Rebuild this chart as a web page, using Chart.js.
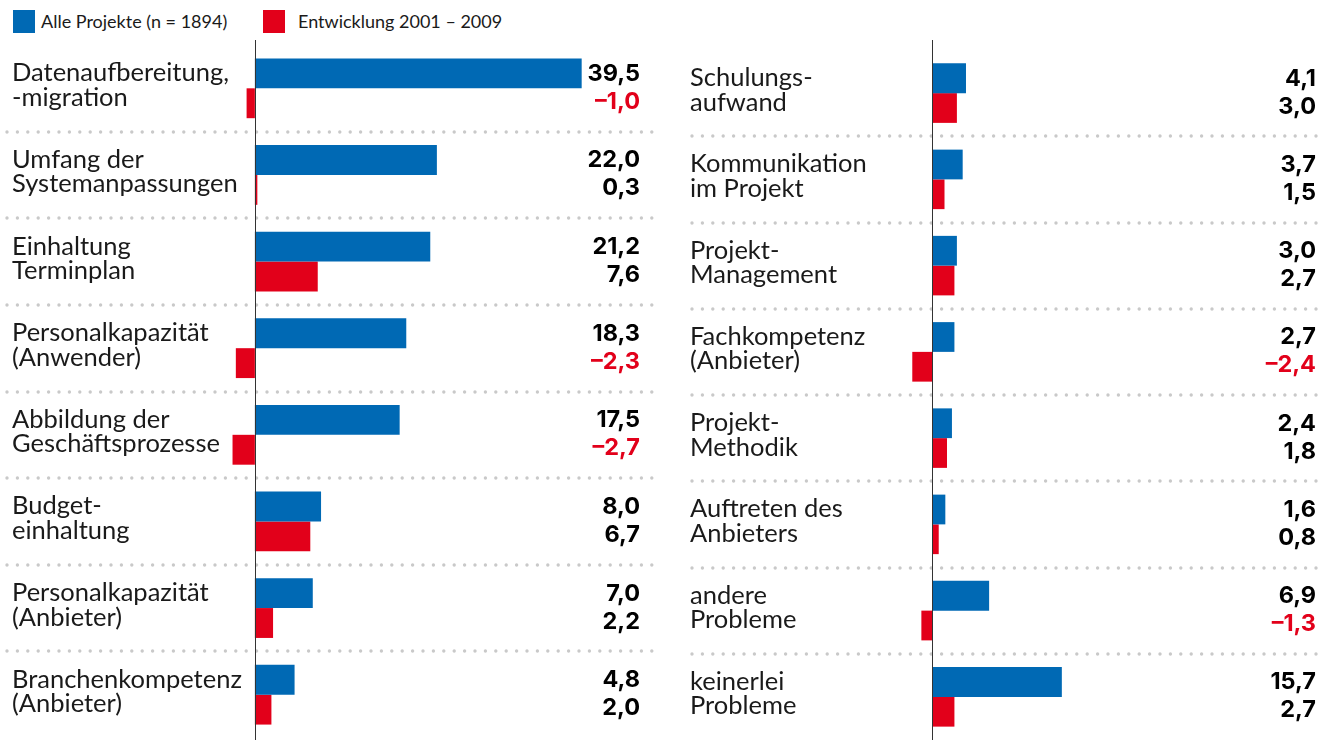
<!DOCTYPE html>
<html>
<head>
<meta charset="utf-8">
<script src="https://cdn.jsdelivr.net/npm/chart.js@4.4.0/dist/chart.umd.min.js"></script>
<style>
  body { margin: 0; background: #fff; width: 1333px; height: 740px; overflow: hidden; position: relative; font-family: Lato, sans-serif; }
  canvas { position: absolute; top: 0; }
  .legend { position: absolute; top: 0; height: 40px; font-size: 18px; font-weight: 400; color: #1a1a1a; }
  .sq { position: absolute; width: 22px; height: 23px; top: 10px; }
  .lt { position: absolute; top: 10px; line-height: 22px; white-space: nowrap; }
</style>
</head>
<body>
<div class="legend">
  <div class="sq" style="left:13px;background:#0069b4"></div>
  <div class="lt" style="left:41px">Alle Projekte (n = 1894)</div>
  <div class="sq" style="left:263px;background:#e2001a"></div>
  <div class="lt" style="left:298px">Entwicklung 2001 – 2009</div>
</div>
<canvas id="left" width="660" height="740" style="left:0"></canvas>
<canvas id="right" width="653" height="740" style="left:680px"></canvas>
<script>
// Data for the left panel
const leftCategories = [
  ['Datenaufbereitung,', '-migration'],
  ['Umfang der', 'Systemanpassungen'],
  ['Einhaltung', 'Terminplan'],
  ['Personalkapazität', '(Anwender)'],
  ['Abbildung der', 'Geschäftsprozesse'],
  ['Budget-', 'einhaltung'],
  ['Personalkapazität', '(Anbieter)'],
  ['Branchenkompetenz', '(Anbieter)']
];
const leftAll = [39.5, 22.0, 21.2, 18.3, 17.5, 8.0, 7.0, 4.8];
const leftChange = [-1.0, 0.3, 7.6, -2.3, -2.7, 6.7, 2.2, 2.0];

// Data for the right panel
const rightCategories = [
  ['Schulungs-', 'aufwand'],
  ['Kommunikation', 'im Projekt'],
  ['Projekt-', 'Management'],
  ['Fachkompetenz', '(Anbieter)'],
  ['Projekt-', 'Methodik'],
  ['Auftreten des', 'Anbieters'],
  ['andere', 'Probleme'],
  ['keinerlei', 'Probleme']
];
const rightAll = [4.1, 3.7, 3.0, 2.7, 2.4, 1.6, 6.9, 15.7];
const rightChange = [3.0, 1.5, 2.7, -2.4, 1.8, 0.8, -1.3, 2.7];

const seriesNames = ['Alle Projekte (n = 1894)', 'Entwicklung 2001 – 2009'];

const BLUE = '#0069b4';
const RED = '#e2001a';

function fmt(v) {
  const s = Math.abs(v).toFixed(1).replace('.', ',');
  return v < 0 ? '\u2013' + s : s;
}

// dotted separators, zero line, category labels and value labels
const panelDecor = {
  id: 'panelDecor',
  beforeDatasetsDraw(chart) {
    const { ctx, chartArea, scales: { y } } = chart;
    const n = chart.data.labels.length;
    ctx.save();
    ctx.strokeStyle = '#c9c9c9';
    ctx.lineWidth = 3.4;
    ctx.lineCap = 'round';
    ctx.setLineDash([0, 10.4]);
    for (let i = 1; i < n; i++) {
      const yy = Math.round((y.getPixelForValue(i - 1) + y.getPixelForValue(i)) / 2);
      ctx.beginPath();
      ctx.moveTo(chartArea.left + 2, yy);
      ctx.lineTo(chartArea.right, yy);
      ctx.stroke();
    }
    ctx.restore();
  },
  afterDatasetsDraw(chart, args, opts) {
    const { ctx, scales: { x, y } } = chart;
    ctx.save();
    // zero line
    const x0 = Math.round(x.getPixelForValue(0)) + 0.5;
    ctx.strokeStyle = '#333';
    ctx.lineWidth = 1;
    ctx.beginPath();
    ctx.moveTo(x0, 40);
    ctx.lineTo(x0, chart.height);
    ctx.stroke();

    // category labels
    ctx.fillStyle = '#1a1a1a';
    ctx.font = '400 25.5px Lato';
    ctx.textAlign = 'left';
    ctx.textBaseline = 'alphabetic';
    chart.data.labels.forEach((lines, i) => {
      const cy = y.getPixelForValue(i);
      ctx.fillText(lines[0], opts.labelX, cy - 7);
      ctx.fillText(lines[1], opts.labelX, cy + 17.5);
    });

    // value labels, two lines per category
    ctx.font = 'bold 23.5px Inter';
    ctx.textAlign = 'right';
    chart.data.datasets.forEach((ds, di) => {
      ds.data.forEach((v, i) => {
        const cy = y.getPixelForValue(i);
        ctx.fillStyle = v < 0 ? RED : '#000';
        ctx.fillText(fmt(v), opts.valueX, di === 0 ? cy - 7.5 : cy + 20.5);
      });
    });
    ctx.restore();
  }
};

function makeChart(id, categories, all, change, min, max, padding, labelX, valueX) {
  return new Chart(document.getElementById(id).getContext('2d'), {
    type: 'bar',
    data: {
      labels: categories,
      datasets: [
        { label: seriesNames[0], data: all, backgroundColor: BLUE, borderWidth: 0 },
        { label: seriesNames[1], data: change, backgroundColor: RED, borderWidth: 0 }
      ]
    },
    options: {
      indexAxis: 'y',
      responsive: false,
      animation: false,
      layout: { padding: padding },
      categoryPercentage: 0.69,
      barPercentage: 1.0,
      scales: {
        x: { display: false, min: min, max: max },
        y: { display: false }
      },
      plugins: {
        legend: { display: false },
        tooltip: { enabled: false },
        panelDecor: { labelX: labelX, valueX: valueX }
      }
    },
    plugins: [panelDecor]
  });
}

makeChart('left', leftCategories, leftAll, leftChange, -30.2, 48.0,
  { left: 5, right: 8, top: 45, bottom: 2 }, 12, 640);
makeChart('right', rightCategories, rightAll, rightChange, -29.3, 46.7,
  { left: 10, right: 15, top: 50, bottom: 0 }, 10, 1316 - 680);
</script>
</body>
</html>
